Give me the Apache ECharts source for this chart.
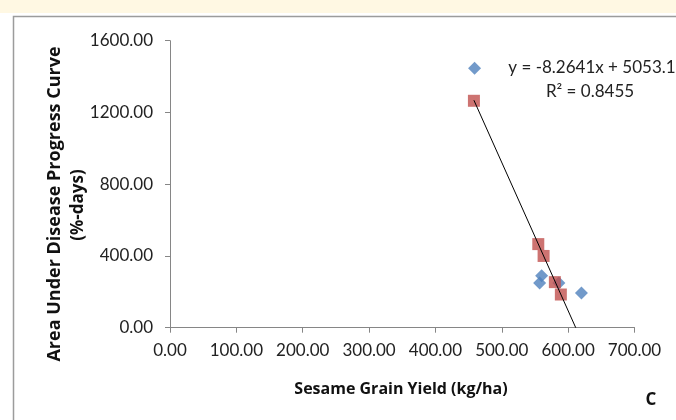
<!DOCTYPE html>
<html>
<head>
<meta charset="utf-8">
<script src="https://cdn.jsdelivr.net/npm/echarts@6/dist/echarts.min.js"></script>
<style>
  html, body { margin: 0; padding: 0; background: #ffffff; }
  #chart { width: 676px; height: 420px; }
</style>
</head>
<body>
<div id="chart"></div>
<script>
// Sesame grain yield (kg/ha) vs. AUDPC (%-days)
const seriesAYield = [459, 560, 557, 586, 620];
const seriesAAudpc = [1446, 290, 249, 249, 193];
const seriesBYield = [458, 555, 563, 580, 589];
const seriesBAudpc = [1265, 466, 400, 254, 185];

// Linear trend fitted to the second series
const trendSlope = -8.2641;
const trendIntercept = 5053.1;
const trendR2 = 0.8455;

const xTicks = [0, 100, 200, 300, 400, 500, 600, 700];
const yTicks = [0, 400, 800, 1200, 1600];

const xTitle = 'Sesame Grain Yield (kg/ha)';
const yTitle = 'Area Under Disease Progress Curve';
const yTitle2 = '(%-days)';
const panelTag = 'C';

const pairs = (xs, ys) => xs.map((x, i) => [x, ys[i]]);

const trendStart = Math.min(...seriesBYield);
const trendEnd = -trendIntercept / trendSlope;
const trendLine = [trendStart, trendEnd].map(x => [x, trendSlope * x + trendIntercept]);

const fmt = v => v.toFixed(2);
const labelFont = 'Lato';

const chart = echarts.init(document.getElementById('chart'), null, { renderer: 'canvas' });
chart.setOption({
  animation: false,
  backgroundColor: '#ffffff',
  grid: { left: 170, right: 41.5, top: 40.7, bottom: 92.3, containLabel: false },
  xAxis: {
    type: 'value',
    min: xTicks[0], max: xTicks[xTicks.length - 1], interval: 100,
    axisLine: { show: true, lineStyle: { color: '#868686', width: 1 } },
    axisTick: { show: true, inside: false, length: 5, lineStyle: { color: '#868686' } },
    splitLine: { show: false },
    axisLabel: { formatter: fmt, color: '#222', fontFamily: labelFont, fontSize: 17, margin: 14 }
  },
  yAxis: {
    type: 'value',
    min: yTicks[0], max: yTicks[yTicks.length - 1], interval: 400,
    axisLine: { show: true, lineStyle: { color: '#868686', width: 1 } },
    axisTick: { show: true, inside: false, length: 5, lineStyle: { color: '#868686' } },
    splitLine: { show: false },
    axisLabel: { formatter: fmt, color: '#222', fontFamily: labelFont, fontSize: 17, margin: 17 }
  },
  series: [
    {
      type: 'scatter', symbol: 'diamond', symbolSize: 13,
      itemStyle: { color: '#4F81BD' },
      data: pairs(seriesAYield, seriesAAudpc), z: 2
    },
    {
      type: 'scatter', symbol: 'rect', symbolSize: 12,
      itemStyle: { color: '#C0504D' },
      data: pairs(seriesBYield, seriesBAudpc), z: 3
    },
    {
      type: 'line', data: trendLine, symbol: 'none', z: 4,
      lineStyle: { color: '#000000', width: 1 }
    }
  ],
  graphic: [
    { type: 'rect', shape: { x: 0, y: 0, width: 676, height: 13 }, style: { fill: '#FFF8E3' }, silent: true },
    { type: 'polyline', shape: { points: [[13.5, 420], [13.5, 16.5], [676, 16.5]] }, style: { stroke: '#9c9c9c', lineWidth: 1.5, fill: null }, silent: true },
    { type: 'text', x: 55, y: 204, rotation: Math.PI / 2,
      style: { text: yTitle, fontFamily: 'Open Sans', fontWeight: 'bold', fontSize: 18, fill: '#111', textAlign: 'center', textVerticalAlign: 'middle' } },
    { type: 'text', x: 78, y: 205, rotation: Math.PI / 2,
      style: { text: yTitle2, fontFamily: 'Open Sans', fontWeight: 'bold', fontSize: 17, fill: '#111', textAlign: 'center', textVerticalAlign: 'middle' } },
    { type: 'text', x: 401, y: 389,
      style: { text: xTitle, fontFamily: 'Open Sans', fontWeight: 'bold', fontSize: 16, fill: '#111', textAlign: 'center', textVerticalAlign: 'middle' } },
    { type: 'text', x: 651, y: 400,
      style: { text: panelTag, fontFamily: 'Open Sans', fontWeight: 'bold', fontSize: 17, fill: '#111', textAlign: 'center', textVerticalAlign: 'middle' } },
    { type: 'text', x: 592, y: 68,
      style: { text: 'y = ' + trendSlope + 'x + ' + trendIntercept, fontFamily: labelFont, fontSize: 17, fill: '#222', textAlign: 'center', textVerticalAlign: 'middle' } },
    { type: 'text', x: 590, y: 92,
      style: { text: 'R\u00B2 = ' + trendR2, fontFamily: labelFont, fontSize: 17, fill: '#222', textAlign: 'center', textVerticalAlign: 'middle' } }
  ]
});
</script>
</body>
</html>
